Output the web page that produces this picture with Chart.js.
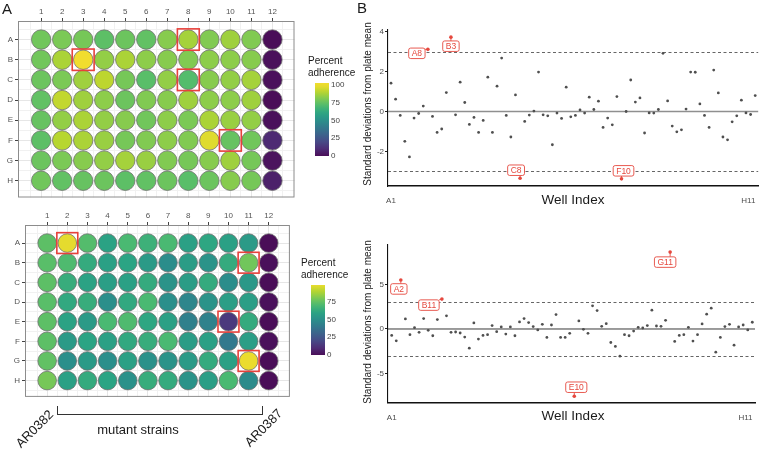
<!DOCTYPE html>
<html>
<head>
<meta charset="utf-8">
<script src="https://cdn.jsdelivr.net/npm/chart.js@4.4.1/dist/chart.umd.min.js"></script>
<style>
  body { margin:0; background:#fff; font-family:"Liberation Sans", Arial, sans-serif; }
  #wrap { position:relative; width:760px; height:451px; overflow:hidden; }
  #wrap canvas { position:absolute; }
  .t { position:absolute; white-space:nowrap; line-height:1; color:#1a1a1a; }
  .c { transform:translate(-50%,-50%); }
  .l { transform:translate(0,-50%); }
  .bar { position:absolute; width:14px; }
  .ln { position:absolute; background:#333; }
</style>
</head>
<body>
<div id="wrap">
  <canvas id="plateTop" width="305" height="208" style="left:0;top:0"></canvas>
  <canvas id="plateBottom" width="300" height="202" style="left:0;top:205px"></canvas>
  <canvas id="sdTop" width="420" height="215" style="left:340px;top:0"></canvas>
  <canvas id="sdBottom" width="420" height="231" style="left:340px;top:220px"></canvas>
</div>
<script>
// ---- data ----
const rows = ['A','B','C','D','E','F','G','H'];
const cols = [1,2,3,4,5,6,7,8,9,10,11,12];

// percent adherence, one array per plate row (A..H), columns 1..12
const topPlate = [
  [78,80,79,74,77,75,82,87,81,86,81,0],
  [78,88,100,84,88,83,82,81,83,83,82,1],
  [77,80,86,91,79,73,84,72,82,84,87,1],
  [75,92,86,83,77,81,82,86,83,83,86,0],
  [76,84,88,84,82,78,83,80,88,85,84,1],
  [74,90,88,85,79,81,83,81,97,76,78,9],
  [77,80,82,84,87,85,81,79,82,86,79,2],
  [78,75,76,77,74,75,77,73,77,82,79,6]
];
const bottomPlate = [
  [74,98,72,59,70,66,70,58,61,58,55,0],
  [73,71,63,58,60,55,49,56,52,63,78,1],
  [74,64,59,57,58,63,52,56,63,49,54,0],
  [73,62,64,50,62,70,50,46,52,57,57,1],
  [74,59,55,70,71,61,58,43,44,14,63,0],
  [74,55,60,58,62,64,70,56,58,40,57,1],
  [75,50,55,50,58,51,52,55,63,58,99,0],
  [79,58,63,60,51,64,63,52,57,70,48,0]
];
const topHits = ['A8','B3','C8','F10'];
const bottomHits = ['A2','B11','E10','G11'];

// standard deviations from plate mean, in well-index order
const topSD = [1.42,0.62,-0.2,-1.5,-2.28,-0.33,-0.1,0.27,3.12,-0.25,
  -1.05,-0.88,0.95,3.73,-0.17,1.47,0.45,-0.65,-0.3,-1.05,
  -0.45,1.72,-1.05,1.27,2.68,-0.2,-1.28,0.83,-3.35,-0.5,
  -0.18,0.02,1.98,-0.17,-0.22,-1.67,-0.08,-0.35,1.22,-0.27,
  -0.2,0.08,-0.08,0.72,0.1,0.52,-0.8,-0.33,-0.67,0.75,
  -3.38,0.0,1.58,0.47,0.68,-1.08,-0.07,-0.08,0.1,2.92,
  0.53,-0.73,-1.02,-0.92,0.12,1.98,1.97,0.38,-0.2,-0.8,
  2.08,0.93,-1.28,-1.42,-0.52,-0.22,0.57,-0.07,-0.15,0.8];
const topFlagAt = [9,14,29,51];
const bottomSD = [-0.72,-1.33,5.53,1.14,-0.64,0.15,-0.38,1.17,-0.15,-0.76,
  1.06,3.37,1.48,-0.38,-0.34,-0.45,-0.91,-2.16,0.68,-1.14,
  -0.72,-0.64,0.38,-0.3,0.23,-0.57,0.23,-0.76,0.8,1.17,
  0.72,0.27,-0.11,0.53,-0.95,0.45,1.63,-0.95,-0.95,-0.49,
  -7.58,0.91,-0.04,-0.49,2.61,2.08,0.3,0.6,-1.52,-1.97,
  -3.07,-0.64,-0.76,-0.23,0.19,0.11,0.38,2.12,0.34,0.3,
  0.98,8.67,-1.4,-0.72,-0.64,0.19,-1.36,-0.64,0.57,1.67,
  2.35,-2.61,-0.95,0.27,0.53,-1.82,0.23,0.45,-0.11,0.76];
const bottomFlagAt = [3,12,41,62];

const topYTicks = [-2,0,2,4];
const bottomYTicks = [-5,0,5];
const xTickLabels = ['A1','H11'];
const xTickAt = [1,78.5];
const topLegendTicks = [0,25,50,75,100];
const bottomLegendTicks = [0,25,50,75];

// ---- helpers ----
const VIR = ['#440154','#482475','#414487','#355f8d','#2a788e','#21918c','#22a884','#44bf70','#7ad151','#bddf26','#fde725'];
const hex = h => [1,3,5].map(i => parseInt(h.slice(i,i+2),16));
// viridis, toned down a little towards grey like the printed figure
function viridis(t) {
  t = Math.max(0, Math.min(1, t));
  const s = t*10, i = Math.min(9, Math.floor(s)), f = s-i;
  const a = hex(VIR[i]), b = hex(VIR[i+1]);
  return 'rgb(' + a.map((v,k) => Math.round((v + (b[k]-v)*f)*0.9 + 128*0.1)).join(',') + ')';
}
const FONT = '"Liberation Sans", Arial, sans-serif';
Chart.defaults.font.family = FONT;

// ---- plates ----
const plateDecor = hits => ({
  id: 'plateDecor',
  afterDatasetsDraw(chart) {
    const {ctx, chartArea:a, scales:{x, y}} = chart;
    ctx.save();
    ctx.strokeStyle = '#8c8c8c'; ctx.lineWidth = 1;
    ctx.strokeRect(a.left+0.5, a.top+0.5, a.width-1, a.height-1);
    const cw = x.getPixelForValue(2) - x.getPixelForValue(1);
    const rh = y.getPixelForValue(2) - y.getPixelForValue(1);
    ctx.strokeStyle = '#e8413b'; ctx.lineWidth = 1.6;
    hits.forEach(h => {
      const px = x.getPixelForValue(+h.slice(1)), py = y.getPixelForValue(rows.indexOf(h[0])+1);
      const hw = cw*0.52, hh = rh*0.53;
      ctx.strokeRect(px-hw, py-hh, hw*2, hh*2);
    });
    ctx.restore();
  }
});

function plateChart(id, values, hits, o) {
  const pts = [], fills = [];
  values.forEach((row, r) => row.forEach((v, c) => {
    pts.push({x: cols[c], y: r+1});
    fills.push(viridis(v/100));
  }));
  const halfSteps = n => { const t = []; for (let v = 0.5; v <= n+0.5; v += 0.5) t.push({value:v}); return t; };
  const isMajor = (c, n) => c.tick && Number.isInteger(c.tick.value) && c.tick.value >= 1 && c.tick.value <= n;
  new Chart(document.getElementById(id), {
    type: 'scatter',
    data: { datasets: [{ data: pts, backgroundColor: fills, borderColor: '#707070', borderWidth: 0.8,
      pointRadius: o.r, pointHoverRadius: o.r }] },
    options: {
      responsive: false, animation: false, events: [],
      layout: { padding: { left:0, top:0, right:o.padR, bottom:o.padB } },
      plugins: { legend:{display:false}, tooltip:{enabled:false} },
      scales: {
        x: { type:'linear', position:'top', min:-0.1, max:13.05,
          afterBuildTicks: s => { s.ticks = halfSteps(12); },
          afterFit: s => { s.height = o.axisH; },
          grid: { color: c => isMajor(c,12) ? '#e6e6e6' : '#f1f1f1', lineWidth: 1,
                  tickColor: c => isMajor(c,12) ? '#444' : 'rgba(0,0,0,0)', tickLength: 3 },
          border: { display:false },
          ticks: { autoSkip:false, maxRotation:0, padding:1, color:'#555', font:{size:8},
                   callback: v => (Number.isInteger(v) && v >= 1 && v <= 12) ? String(v) : '' } },
        y: { type:'linear', reverse:true, min:0.08, max:8.83,
          afterBuildTicks: s => { s.ticks = halfSteps(8); },
          afterFit: s => { s.width = o.axisW; },
          grid: { color: c => isMajor(c,8) ? '#e6e6e6' : '#f1f1f1', lineWidth: 1,
                  tickColor: c => isMajor(c,8) ? '#444' : 'rgba(0,0,0,0)', tickLength: 3 },
          border: { display:false },
          ticks: { autoSkip:false, padding:2, color:'#555', font:{size:8},
                   callback: v => (Number.isInteger(v) && v >= 1 && v <= 8) ? rows[v-1] : '' } }
      }
    },
    plugins: [plateDecor(hits)]
  });
}

plateChart('plateTop', topPlate, topHits, { r:9.7, axisW:18, axisH:21, padR:4, padB:6 });
plateChart('plateBottom', bottomPlate, bottomHits, { r:9.3, axisW:25, axisH:20, padR:2.4, padB:6 });

// ---- SD scatter plots ----
const labelNudge = { A8:[-11,4], B3:[0,9], C8:[-4,-8], F10:[2,-8], A2:[-2,9], B11:[-13,6], E10:[2,-9], G11:[-5,10] };

const sdDecor = (names, flagAt, zero) => ({
  id: 'sdDecor',
  beforeDatasetsDraw(chart) {
    const {ctx, chartArea:a, scales:{y}} = chart;
    ctx.save();
    ctx.strokeStyle = zero.color; ctx.lineWidth = zero.width;
    let py = y.getPixelForValue(0);
    ctx.beginPath(); ctx.moveTo(a.left, py); ctx.lineTo(a.right, py); ctx.stroke();
    ctx.strokeStyle = '#555'; ctx.lineWidth = 0.9; ctx.setLineDash([3,2.5]);
    [3,-3].forEach(v => {
      py = Math.round(y.getPixelForValue(v)) + 0.5;
      ctx.beginPath(); ctx.moveTo(a.left, py); ctx.lineTo(a.right, py); ctx.stroke();
    });
    ctx.restore();
  },
  afterDatasetsDraw(chart) {
    const {ctx} = chart;
    const meta = chart.getDatasetMeta(1);
    ctx.save();
    ctx.font = '8.5px ' + FONT;
    ctx.textAlign = 'center'; ctx.textBaseline = 'middle';
    meta.data.forEach((el, i) => {
      const name = names[i], n = labelNudge[name];
      const w = ctx.measureText(name).width + 6, h = 10.5;
      const cx = el.x + n[0], cy = el.y + n[1];
      const bx = cx - w/2, by = cy - h/2;
      const qx = Math.max(bx, Math.min(bx+w, el.x)), qy = Math.max(by, Math.min(by+h, el.y));
      ctx.strokeStyle = '#e5483e'; ctx.lineWidth = 0.9;
      ctx.beginPath(); ctx.moveTo(el.x, el.y); ctx.lineTo(qx, qy); ctx.stroke();
      ctx.beginPath(); ctx.roundRect(bx, by, w, h, 2);
      ctx.fillStyle = '#fff'; ctx.fill(); ctx.stroke();
      ctx.fillStyle = '#e5483e';
      ctx.fillText(name, cx, cy + 0.5);
    });
    ctx.restore();
  }
});

function sdChart(id, sd, flagAt, names, yTicks, o) {
  const grey = [], red = [];
  sd.forEach((v, i) => (flagAt.includes(i+1) ? red : grey).push({x:i+1, y:v}));
  new Chart(document.getElementById(id), {
    type: 'scatter',
    data: { datasets: [
      { data: grey, backgroundColor:'#4f4f4f', borderWidth:0, pointRadius:1.4, pointHoverRadius:1.4 },
      { data: red, backgroundColor:'#e5483e', borderWidth:0, pointRadius:1.8, pointHoverRadius:1.8 }
    ] },
    options: {
      responsive: false, animation: false, events: [],
      layout: { padding: { left:0, top:o.padT, right:o.padR, bottom:o.padB } },
      plugins: { legend:{display:false}, tooltip:{enabled:false} },
      scales: {
        x: { type:'linear', min:o.xmin, max:o.xmax,
          afterBuildTicks: s => { s.ticks = xTickAt.map(v => ({value:v})); },
          afterFit: s => { s.height = o.axisH; },
          grid: { display:false },
          border: { display:true, color:'#111', width:1.6 },
          ticks: { autoSkip:false, maxRotation:0, padding:2, color:'#4d4d4d', font:{size:8},
                   callback: (v, i) => xTickLabels[i] } },
        y: { type:'linear', min:o.ymin, max:o.ymax,
          afterBuildTicks: s => { s.ticks = yTicks.map(v => ({value:v})); },
          afterFit: s => { s.width = 48; },
          grid: { drawOnChartArea:false, drawTicks:true, tickLength:3, tickColor:'#222' },
          border: { display:true, color:'#111', width:1.1 },
          ticks: { autoSkip:false, padding:1, color:'#4d4d4d', font:{size:8}, callback: v => String(v) } }
      }
    },
    plugins: [sdDecor(names, flagAt, o.zero)]
  });
}

sdChart('sdTop', topSD, topFlagAt, topHits, topYTicks,
  { xmin:0.35, xmax:80.65, ymin:-3.74, ymax:4.09, padT:30, padR:1, padB:0, axisH:29,
    zero:{color:'#8f8f8f', width:1.4} });
sdChart('sdBottom', bottomSD, bottomFlagAt, bottomHits, bottomYTicks,
  { xmin:0.19, xmax:80.59, ymin:-8.31, ymax:9.47, padT:25, padR:5, padB:20, axisH:28.3,
    zero:{color:'#3a3a3a', width:1} });

// ---- legends and annotations (html text) ----
const wrap = document.getElementById('wrap');
function txt(s, x, y, size, cls, extra) {
  const d = document.createElement('div');
  d.className = 't ' + cls; d.textContent = s;
  d.style.left = x + 'px'; d.style.top = y + 'px'; d.style.fontSize = size + 'px';
  if (extra) Object.assign(d.style, extra);
  wrap.appendChild(d); return d;
}
function colorbar(left, top, h, vmax, ticks, pxPerUnit, labelX) {
  const stops = [];
  for (let j = 0; j <= 20; j++) stops.push(viridis(j/20*vmax/100) + ' ' + (j*5) + '%');
  const b = document.createElement('div');
  b.className = 'bar';
  Object.assign(b.style, { left:left+'px', top:top+'px', height:h+'px', background:'linear-gradient(to top,' + stops.join(',') + ')' });
  wrap.appendChild(b);
  ticks.forEach(v => txt(String(v), labelX, top + h - v*pxPerUnit, 8, 'l', {color:'#444'}));
}

txt('A', 7, 8, 15, 'c');
txt('B', 362, 7, 15, 'c');

txt('Percent', 308, 61, 10, 'l');
txt('adherence', 308, 72.5, 10, 'l');
colorbar(315, 83, 73, 102.8, topLegendTicks, 0.71, 331);

txt('Percent', 301, 263, 10, 'l');
txt('adherence', 301, 274.5, 10, 'l');
colorbar(311, 285, 70, 98.6, bottomLegendTicks, 0.709, 327);

txt('Standard deviations from plate mean', 368, 104, 10, 'c', {transform:'translate(-50%,-50%) rotate(-90deg)'});
txt('Standard deviations from plate mean', 368, 322, 10, 'c', {transform:'translate(-50%,-50%) rotate(-90deg)'});
txt('Well Index', 573, 200, 13.5, 'c');
txt('Well Index', 573, 416, 13.5, 'c');

txt('mutant strains', 138, 429, 13, 'c');
function slanted(s, x, y) {
  const o = document.createElement('div');
  Object.assign(o.style, { position:'absolute', left:x+'px', top:y+'px', width:0, height:0, transform:'rotate(-45deg)', transformOrigin:'0 0' });
  const i = document.createElement('div');
  i.className = 't'; i.textContent = s;
  Object.assign(i.style, { right:0, top:0, fontSize:'13px', transform:'translateY(-50%)' });
  o.appendChild(i); wrap.appendChild(o);
}
slanted('AR0382', 51, 412);
slanted('AR0387', 280, 411);

[[57,414,206,1],[57,406,1,9],[262,406,1,9]].forEach(([l,t,w,h]) => {
  const d = document.createElement('div'); d.className = 'ln';
  Object.assign(d.style, { left:l+'px', top:t+'px', width:w+'px', height:h+'px' });
  wrap.appendChild(d);
});
</script>
</body>
</html>
